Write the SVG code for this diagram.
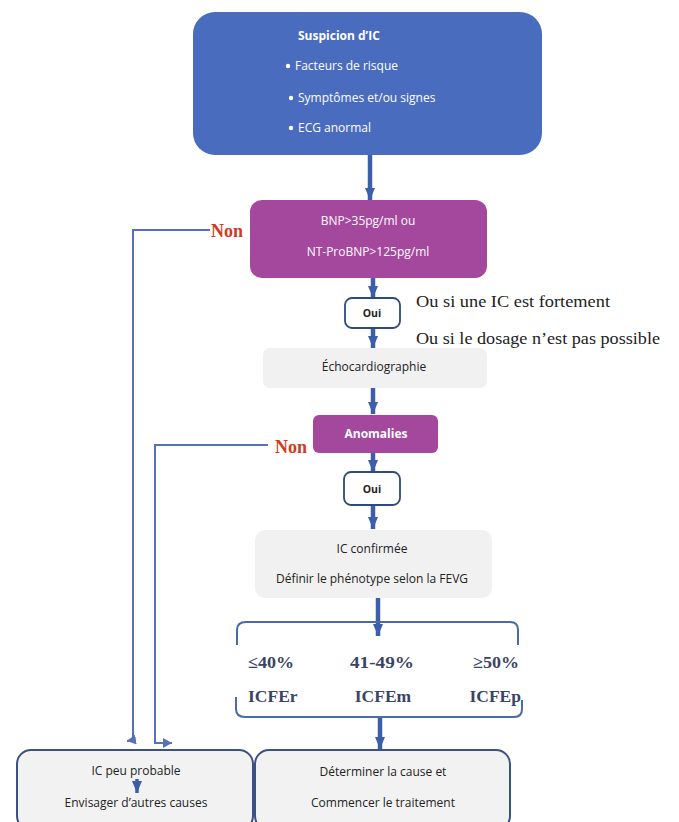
<svg xmlns="http://www.w3.org/2000/svg" width="679" height="822" viewBox="0 0 679 822">
<defs>
<marker id="thick" markerUnits="userSpaceOnUse" markerWidth="14" markerHeight="10" refX="12" refY="5" orient="auto">
<path d="M0,0 L12,5 L0,10 Z" fill="#3d5ea8"/>
</marker>
<marker id="thin" markerUnits="userSpaceOnUse" markerWidth="10" markerHeight="10" refX="9" refY="5" orient="auto">
<path d="M0,0 L9,5 L0,10 Z" fill="#5670bb"/>
</marker>
<style>
.sans{font-family:"Open Sans","Liberation Sans",sans-serif;font-size:12px;fill:#222}
.w{fill:#fff}
.b{font-weight:bold}
.serif{font-family:"Liberation Serif","DejaVu Serif",serif}
.note{font-size:17.5px;fill:#222}
.non{font-size:18px;font-weight:bold;fill:#d23a22}
.fe{font-size:17.5px;font-weight:bold;fill:#3a4566}
.ta{stroke:#3d5ea8;stroke-width:4.5;fill:none}
.tn{stroke:#5670bb;stroke-width:2;fill:none}
.gray{fill:#f1f1f1}
.oui{fill:#fff;stroke:#2f4a7d;stroke-width:1.8}
.btm{fill:#f2f2f2;stroke:#3b5183;stroke-width:2}
.br{stroke:#4a6aa8;stroke-width:2;fill:none}
</style>
</defs>
<g id="connectors">
<line class="ta" x1="370" y1="155" x2="370" y2="200" marker-end="url(#thick)"/>
<line class="ta" x1="373" y1="278" x2="373" y2="298" marker-end="url(#thick)"/>
<line class="ta" x1="373" y1="328" x2="373" y2="348" marker-end="url(#thick)"/>
<line class="ta" x1="373" y1="388" x2="373" y2="414" marker-end="url(#thick)"/>
<line class="ta" x1="373" y1="453" x2="373" y2="472" marker-end="url(#thick)"/>
<line class="ta" x1="373" y1="505" x2="373" y2="529" marker-end="url(#thick)"/>
<line class="ta" x1="378" y1="598" x2="378" y2="636" marker-end="url(#thick)"/>
<line class="ta" x1="380" y1="717" x2="380" y2="749" marker-end="url(#thick)"/>
<path class="tn" d="M210,230 H133 V740 L127,741" marker-end="url(#thin)"/>
<path class="tn" d="M268,445 H155 V743 H172" marker-end="url(#thin)"/>
<path class="br" d="M237,645 V630 Q237,622 246,622 H510 Q518,622 518,630 V645"/>
<path class="br" d="M236,697 V709 Q236,717 245,717 H514 Q522,717 522,709 V700"/>
</g>
<g id="suspicion">
<rect x="193" y="12" width="349" height="143" rx="22" fill="#4a6cbf"/>
<text class="sans w b" x="298" y="40">Suspicion d’IC</text>
<circle cx="288" cy="66" r="2.2" fill="#fff"/>
<text class="sans w" x="295" y="70">Facteurs de risque</text>
<circle cx="291" cy="98" r="2.2" fill="#fff"/>
<text class="sans w" x="298" y="102">Symptômes et/ou signes</text>
<circle cx="291" cy="128" r="2.2" fill="#fff"/>
<text class="sans w" x="298" y="132">ECG anormal</text>
</g>
<g id="bnp">
<rect x="250" y="200" width="237" height="78" rx="12" fill="#a4489d"/>
<text class="sans w" x="368" y="225" text-anchor="middle">BNP&gt;35pg/ml ou</text>
<text class="sans w" x="368" y="256" text-anchor="middle">NT-ProBNP&gt;125pg/ml</text>
</g>
<g id="non1"><text class="serif non" x="211" y="237">Non</text></g>
<g id="oui1">
<rect class="oui" x="345" y="298" width="55" height="30" rx="7"/>
<text class="sans b" x="372" y="317" text-anchor="middle" style="font-size:10.5px">Oui</text>
</g>
<g id="note">
<text class="serif note" x="416" y="307" textLength="194" lengthAdjust="spacingAndGlyphs">Ou si une IC est fortement</text>
<text class="serif note" x="416" y="344" textLength="244" lengthAdjust="spacingAndGlyphs">Ou si le dosage n’est pas possible</text>
</g>
<g id="echo">
<rect class="gray" x="263" y="348" width="224" height="40" rx="7"/>
<text class="sans" x="374" y="371" text-anchor="middle">Échocardiographie</text>
</g>
<g id="anomalies">
<rect x="313" y="415" width="125" height="38" rx="6" fill="#a4489d"/>
<text class="sans w b" x="376" y="438" text-anchor="middle">Anomalies</text>
</g>
<g id="non2"><text class="serif non" x="275" y="453">Non</text></g>
<g id="oui2">
<rect class="oui" x="344" y="472" width="56" height="33" rx="7"/>
<text class="sans b" x="372" y="493" text-anchor="middle" style="font-size:10.5px">Oui</text>
</g>
<g id="confirmee">
<rect class="gray" x="255" y="530" width="237" height="68" rx="10"/>
<text class="sans" x="372" y="553" text-anchor="middle">IC confirmée</text>
<text class="sans" x="372" y="583" text-anchor="middle">Définir le phénotype selon la FEVG</text>
</g>
<g id="fevg">
<text class="serif fe" x="248" y="668" textLength="46" lengthAdjust="spacingAndGlyphs">≤40%</text>
<text class="serif fe" x="350" y="668" textLength="64" lengthAdjust="spacingAndGlyphs">41-49%</text>
<text class="serif fe" x="473" y="668" textLength="46" lengthAdjust="spacingAndGlyphs">≥50%</text>
<text class="serif fe" x="248" y="702">ICFEr</text>
<text class="serif fe" x="383" y="702" text-anchor="middle">ICFEm</text>
<text class="serif fe" x="521" y="702" text-anchor="end">ICFEp</text>
</g>
<g id="peu-probable">
<rect class="btm" x="17" y="750" width="236" height="80" rx="14"/>
<text class="sans" x="136" y="775" text-anchor="middle">IC peu probable</text>
<line class="ta" x1="137" y1="779" x2="137" y2="793" marker-end="url(#thick)" style="stroke-width:3.5"/>
<text class="sans" x="136" y="807" text-anchor="middle">Envisager d’autres causes</text>
</g>
<g id="traitement">
<rect class="btm" x="255" y="750" width="255" height="80" rx="14"/>
<text class="sans" x="383" y="776" text-anchor="middle">Déterminer la cause et</text>
<text class="sans" x="383" y="807" text-anchor="middle">Commencer le traitement</text>
</g>
</svg>
